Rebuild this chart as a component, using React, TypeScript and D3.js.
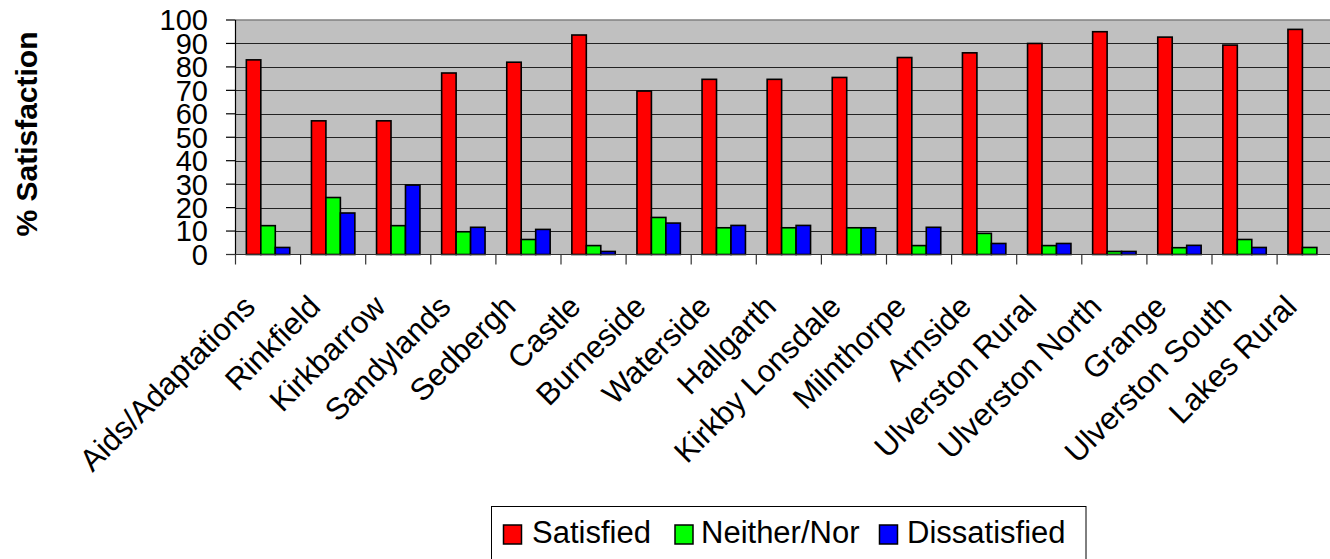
import React from "react";
import * as d3 from "d3";

// Areas / services surveyed
const categories = [
  "Aids/Adaptations",
  "Rinkfield",
  "Kirkbarrow",
  "Sandylands",
  "Sedbergh",
  "Castle",
  "Burneside",
  "Waterside",
  "Hallgarth",
  "Kirkby Lonsdale",
  "Milnthorpe",
  "Arnside",
  "Ulverston Rural",
  "Ulverston North",
  "Grange",
  "Ulverston South",
  "Lakes Rural",
];

// Percentages per response type
const satisfied = [83, 57, 57, 77.4, 82, 93.6, 69.7, 74.7, 74.7, 75.5, 84, 86, 90, 95, 92.7, 89.3, 96];
const neitherNor = [12.3, 24.3, 12.3, 9.7, 6.4, 3.8, 15.8, 11.4, 11.4, 11.4, 3.8, 9, 3.8, 1.3, 2.9, 6.4, 3];
const dissatisfied = [3, 17.7, 29.6, 11.6, 10.7, 1.3, 13.4, 12.4, 12.4, 11.4, 11.6, 4.7, 4.7, 1.3, 3.9, 3, 0];

const seriesNames = ["Satisfied", "Neither/Nor", "Dissatisfied"];
const seriesColors = ["#FF0000", "#00FF00", "#0000FF"];
const yTicks = [0, 10, 20, 30, 40, 50, 60, 70, 80, 90, 100];

const W = 1330;
const H = 559;
const plotLeft = 235.5;
const plotTop = 20;
const plotBottom = 254.5;
const bandWidth = 65.1;
const FONT = "Arial, 'Liberation Sans', Helvetica, sans-serif";

export default function App() {
  const seriesValues = [satisfied, neitherNor, dissatisfied];

  const x = d3
    .scaleBand<string>()
    .domain(categories)
    .range([plotLeft, plotLeft + bandWidth * categories.length])
    .paddingInner(0)
    .paddingOuter(0);

  const y = d3.scaleLinear().domain([0, 100]).range([plotBottom, plotTop]);

  const barW = x.bandwidth() / 4.5;
  const groupOffset = (x.bandwidth() - barW * 3) / 2;
  const plotRight = plotLeft + bandWidth * categories.length;

  // Legend layout
  const legendX = 491.5;
  const legendY = 506.5;
  const legendItems = [
    { sq: 503.5, tx: 532 },
    { sq: 675, tx: 701 },
    { sq: 879.5, tx: 907 },
  ];

  return (
    <svg
      width={W}
      height={H}
      style={{ position: "absolute", left: 0, top: 0, background: "#fff" }}
      fontFamily={FONT}
    >
      {/* plot background */}
      <rect
        x={plotLeft}
        y={plotTop}
        width={plotRight - plotLeft}
        height={plotBottom - plotTop}
        fill="#C0C0C0"
      />
      {/* horizontal gridlines */}
      {yTicks
        .filter((t) => t > 0 && t < 100)
        .map((t) => (
          <line
            key={"g" + t}
            x1={plotLeft}
            x2={plotRight}
            y1={Math.round(y(t)) + 0.5}
            y2={Math.round(y(t)) + 0.5}
            stroke="#222"
            strokeWidth={1}
          />
        ))}
      <line
        x1={plotLeft}
        x2={plotRight}
        y1={plotTop}
        y2={plotTop}
        stroke="#808080"
        strokeWidth={1.5}
      />

      {/* bars */}
      {categories.map((c, i) => (
        <g key={c}>
          {seriesValues.map((vals, s) =>
            vals[i] > 0 ? (
              <rect
                key={s}
                x={(x(c) as number) + groupOffset + s * barW}
                y={y(vals[i])}
                width={barW}
                height={y(0) - y(vals[i])}
                fill={seriesColors[s]}
                stroke="#000"
                strokeWidth={1.6}
              />
            ) : null
          )}
        </g>
      ))}

      {/* y axis */}
      <line x1={plotLeft} x2={plotLeft} y1={plotTop} y2={plotBottom} stroke="#000" strokeWidth={1.2} />
      {yTicks.map((t) => (
        <g key={"yt" + t}>
          <line x1={226} x2={plotLeft} y1={y(t)} y2={y(t)} stroke="#000" strokeWidth={1.2} />
          <text x={208} y={y(t)} dy="0.36em" textAnchor="end" fontSize={29} fill="#000">
            {t}
          </text>
        </g>
      ))}

      {/* x axis */}
      <line x1={226} x2={plotRight} y1={plotBottom} y2={plotBottom} stroke="#333" strokeWidth={1.2} />
      {categories.map((c) => (
        <line
          key={"xt" + c}
          x1={x(c) as number}
          x2={x(c) as number}
          y1={plotBottom}
          y2={plotBottom + 10}
          stroke="#333"
          strokeWidth={1.2}
        />
      ))}
      {categories.map((c) => {
        const cx = (x(c) as number) + x.bandwidth() / 2;
        return (
          <text
            key={"xl" + c}
            transform={`translate(${cx - 11},${plotBottom + 54}) rotate(-45)`}
            textAnchor="end"
            fontSize={31}
            fill="#000"
          >
            {c}
          </text>
        );
      })}

      {/* y axis title */}
      <text
        transform="translate(37,134) rotate(-90)"
        textAnchor="middle"
        fontSize={30}
        fontWeight="bold"
        fill="#000"
      >
        % Satisfaction
      </text>

      {/* legend */}
      <rect
        x={legendX}
        y={legendY}
        width={1086 - legendX}
        height={80}
        fill="#fff"
        stroke="#000"
        strokeWidth={1}
      />
      {seriesNames.map((n, s) => (
        <g key={n}>
          <rect
            x={legendItems[s].sq}
            y={525}
            width={18}
            height={19}
            fill={seriesColors[s]}
            stroke="#000"
            strokeWidth={1.5}
          />
          <text x={legendItems[s].tx} y={543} fontSize={31} fill="#000">
            {n}
          </text>
        </g>
      ))}
    </svg>
  );
}
